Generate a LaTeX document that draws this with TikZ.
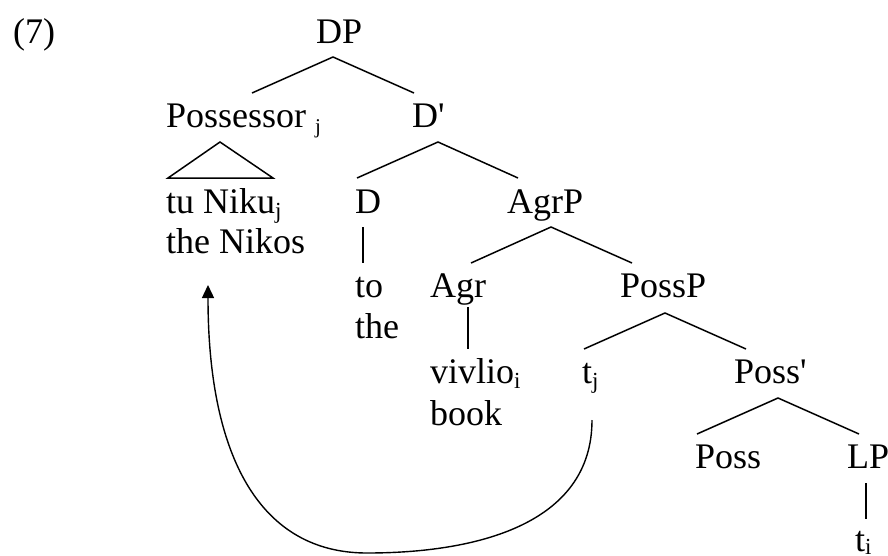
\documentclass[tikz,border=0pt]{standalone}
\usepackage{fontspec}
\setmainfont{Liberation Serif}[Ligatures=TeXOff]
\usetikzlibrary{arrows.meta}
% lowered index letter (binding subscripts)
\newcommand\lo[2][-5pt]{\raisebox{#1}{\fontsize{23}{23}\selectfont #2}}
\begin{document}
\begin{tikzpicture}[x=1pt,y=-1pt,
  lbl/.style={anchor=base west, inner sep=0pt, font=\fontsize{36}{40}\selectfont},
  branch/.style={line width=1.5pt},
  move/.style={line width=1.4pt, -{Triangle[length=13pt,width=12pt]}}]
\useasboundingbox (0,0) rectangle (888,555);

% labels, placed by left edge and baseline
\node[lbl] (ex)    at (13,43)  {(7)};
\node[lbl] (DP)    at (316,43) {DP};
\node[lbl] (Pos)   at (166,127) {Possessor \lo[-6pt]{\fontsize{21}{21}\selectfont j}};
\node[lbl] (Dbar)  at (412,127) {D'};
\node[lbl] (tuN)   at (166,213) {tu Niku\lo{j}};
\node[lbl] (theN)  at (166,253) {the Nikos};
\node[lbl] (D)     at (355,213) {D};
\node[lbl] (AgrP)  at (507,213) {AgrP};
\node[lbl] (to)    at (355,297) {to};
\node[lbl] (the)   at (355,338) {the};
\node[lbl] (Agr)   at (430,297) {Agr};
\node[lbl] (PossP) at (620,297) {PossP};
\node[lbl] (viv)   at (430,383) {vivlio\lo{i}};
\node[lbl] (book)  at (430,425) {book};
\node[lbl] (tj)    at (582,383) {t\lo{j}};
\node[lbl] (Possb) at (734,383) {Poss'};
\node[lbl] (Poss)  at (695,468) {Poss};
\node[lbl] (LP)    at (847,468) {LP};
\node[lbl] (ti)    at (855,551) {t\lo[-3pt]{i}};

% branch points
\coordinate (DP-a)    at (333,57);
\coordinate (Pos-t)   at (252,93);
\coordinate (Dbar-t)  at (414,93);
\coordinate (Dbar-a)  at (438,142);
\coordinate (D-t)     at (357,178);
\coordinate (AgrP-t)  at (518,178);
\coordinate (AgrP-a)  at (551,227);
\coordinate (Agr-t)   at (471,263);
\coordinate (PossP-t) at (632,263);
\coordinate (PossP-a) at (665,313);
\coordinate (tj-t)    at (584,349);
\coordinate (Possb-t) at (746,349);
\coordinate (Possb-a) at (778,398);
\coordinate (Poss-t)  at (697,434);
\coordinate (LP-t)    at (859,434);
\coordinate (D-b)     at (363,227);
\coordinate (to-t)    at (363,263);
\coordinate (Agr-b)   at (468,307);
\coordinate (viv-t)   at (468,349);
\coordinate (LP-b)    at (866,483);
\coordinate (ti-t)    at (866,519);
\coordinate (tri-a)   at (220,142);
\coordinate (tri-l)   at (168,178);
\coordinate (tri-r)   at (273,178);
\coordinate (tj-foot) at (592,420);
\coordinate (tuN-foot) at (208,285);

% branches
\draw[branch] (Pos-t) -- (DP-a) -- (Dbar-t);
\draw[branch] (D-t) -- (Dbar-a) -- (AgrP-t);
\draw[branch] (Agr-t) -- (AgrP-a) -- (PossP-t);
\draw[branch] (tj-t) -- (PossP-a) -- (Possb-t);
\draw[branch] (Poss-t) -- (Possb-a) -- (LP-t);
\draw[branch] (D-b) -- (to-t);
\draw[branch] (Agr-b) -- (viv-t);
\draw[branch] (LP-b) -- (ti-t);
\draw[branch] (tri-a) -- (tri-l) -- (tri-r) -- cycle;

% movement of the possessor
\draw[move] (tj-foot) .. controls (592,525) and (475,553) .. (367,553)
  .. controls (262,553) and (208,460) .. (tuN-foot);
\end{tikzpicture}
\end{document}
